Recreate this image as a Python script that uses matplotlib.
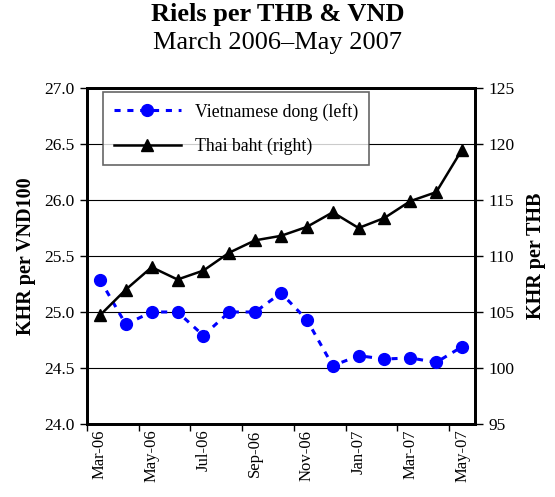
import numpy as np
import matplotlib
matplotlib.use("Agg")
import matplotlib.pyplot as plt

plt.rcParams['font.family'] = ['Liberation Serif', 'DejaVu Serif']

months = ["Mar-06", "Apr-06", "May-06", "Jun-06", "Jul-06", "Aug-06", "Sep-06", "Oct-06",
          "Nov-06", "Dec-06", "Jan-07", "Feb-07", "Mar-07", "Apr-07", "May-07"]
vnd = [25.29, 24.89, 25.00, 25.00, 24.79, 25.00, 25.00, 25.17,
       24.93, 24.52, 24.61, 24.58, 24.59, 24.55, 24.69]
thb = [104.7, 107.0, 109.0, 107.9, 108.7, 110.3, 111.4, 111.8,
       112.6, 113.9, 112.5, 113.4, 114.9, 115.7, 119.5]

fig = plt.figure(figsize=(5.55, 4.97), dpi=100)
ax = fig.add_axes([87/555, 1 - 424/497, 388/555, 336/497])
ax2 = ax.twinx()

x = np.arange(len(months))
ax.plot(x, vnd, color='#0000ff', linestyle=(0, (2, 2.2)), linewidth=2.2,
        marker='o', markersize=8.5, label='Vietnamese dong (left)', zorder=3)
ax2.plot(x, thb, color='black', linewidth=1.8, marker='^', markersize=8,
         label='Thai baht (right)', zorder=3)

ax.set_xlim(-0.5, len(months) - 0.5)
ax.set_ylim(24.0, 27.0)
ax2.set_ylim(95, 125)
ax.set_yticks(np.arange(24.0, 27.01, 0.5))
ax.set_yticklabels([f"{v:.1f}" for v in np.arange(24.0, 27.01, 0.5)], fontsize=12.5)
ax2.set_yticks(np.arange(95, 126, 5))
ax2.set_yticklabels([str(v) for v in range(95, 126, 5)], fontsize=12.5)

# category-style ticks: marks between categories, labels centred
ax.set_xticks(np.arange(-0.5, len(months), 2))
ax.set_xticklabels([])
ax.set_xticks(x[::2], minor=True)
ax.set_xticklabels(months[::2], minor=True, rotation=90, fontsize=12)
ax.tick_params(axis='x', which='minor', length=0, pad=4)
ax.tick_params(axis='x', which='major', direction='out', length=5, width=1)
ax.tick_params(axis='y', direction='out', length=5, width=1, pad=4)
ax2.tick_params(axis='y', direction='out', length=6, width=1, pad=4)

ax.yaxis.grid(True, color='black', linewidth=0.8)
ax.set_axisbelow(True)
for a in (ax, ax2):
    for s in a.spines.values():
        s.set_linewidth(2)

ax.set_ylabel("KHR per VND100", fontsize=14.5, fontweight='bold', labelpad=6)
ax2.set_ylabel("KHR per THB", fontsize=14.5, fontweight='bold', rotation=90, labelpad=8)

fig.text(0.5, 1 - 14/497, "Riels per THB & VND", ha='center', va='center', fontsize=19, fontweight='bold')
fig.text(0.5, 1 - 43/497, "March 2006\u2013May 2007", ha='center', va='center', fontsize=19)

h1, l1 = ax.get_legend_handles_labels()
h2, l2 = ax2.get_legend_handles_labels()
leg = ax2.legend(h1 + h2, l1 + l2, loc='upper left', bbox_to_anchor=(16/388, 1 - 4/336),
                 borderaxespad=0, fontsize=12.8, frameon=True, fancybox=False,
                 edgecolor='#404040', handlelength=3.8, labelspacing=0.95, borderpad=0.6)
leg.get_frame().set_linewidth(1.2)

fig.savefig("out.png", dpi=100)
